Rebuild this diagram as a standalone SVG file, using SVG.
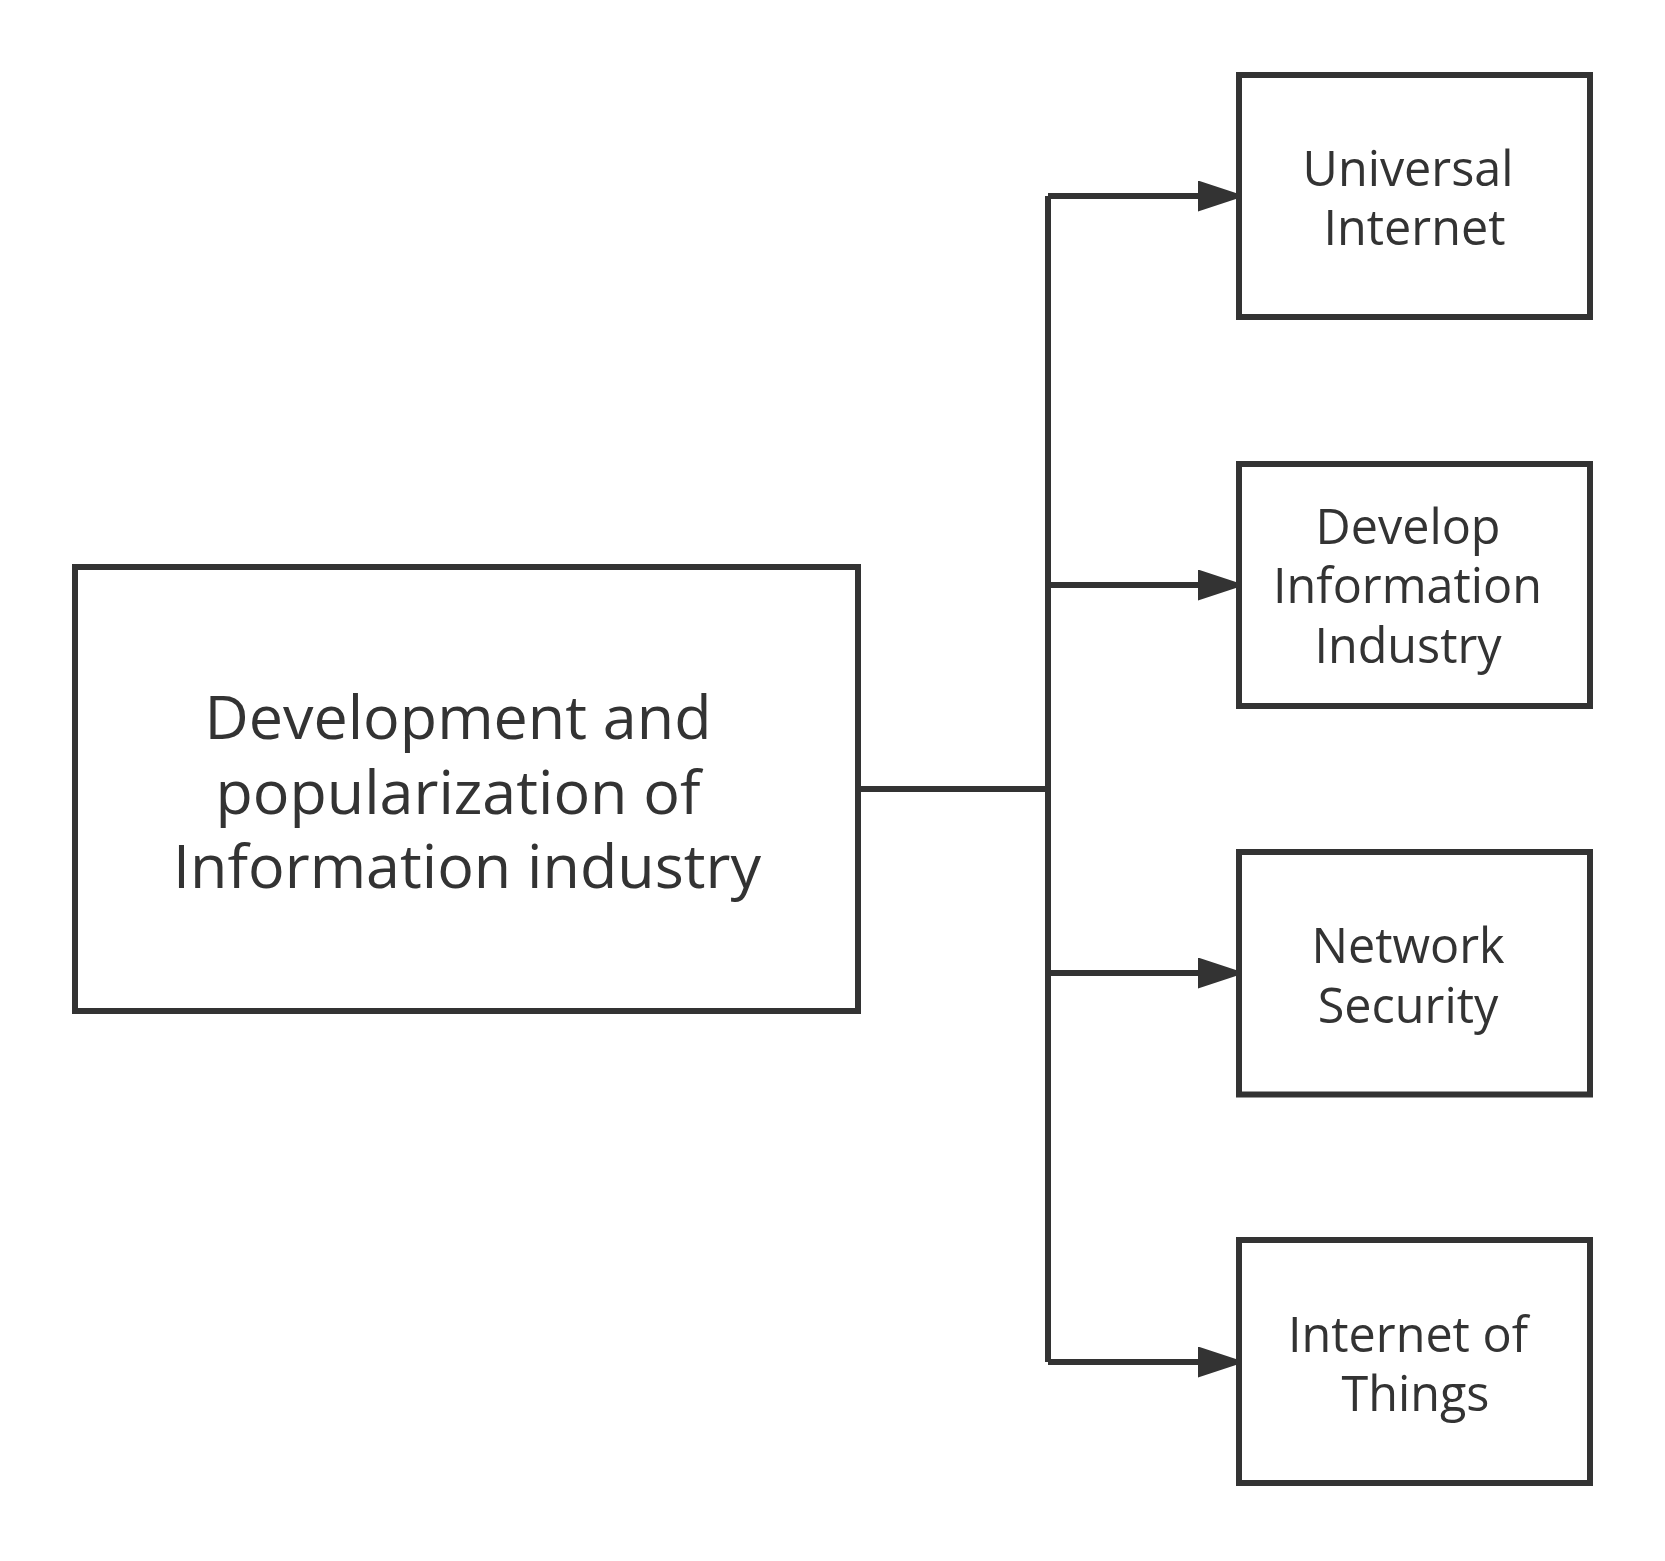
<svg xmlns="http://www.w3.org/2000/svg" width="1665" height="1561" viewBox="0 0 1665 1561">
<style>
.box{fill:#ffffff;stroke:#333333;stroke-width:6}
.edge{fill:none;stroke:#333333;stroke-width:6}
.t{font-family:"Open Sans","Noto Sans","Liberation Sans",sans-serif;fill:#333333;text-anchor:middle}
.s{font-size:48.5px}
.m{font-size:61px}
</style>
<defs>
<marker id="arrow" markerUnits="userSpaceOnUse" viewBox="0 0 47 31" markerWidth="47" markerHeight="31" refX="7" refY="15.5" orient="auto">
<path d="M0,0 L47,15.5 L0,31 Z" fill="#333333"/>
</marker>
</defs>
<rect width="1665" height="1561" fill="#ffffff"/>
<g id="connectors">
<path class="edge" d="M858,789 H1048"/>
<path class="edge" d="M1048,196 V1362"/>
<path class="edge" d="M1048,196 H1205" marker-end="url(#arrow)"/>
<path class="edge" d="M1048,585 H1205" marker-end="url(#arrow)"/>
<path class="edge" d="M1048,973 H1205" marker-end="url(#arrow)"/>
<path class="edge" d="M1048,1362 H1205" marker-end="url(#arrow)"/>
</g>
<g id="main">
<rect class="box" x="75" y="567" width="783" height="444"/>
<text class="t m"><tspan x="458" y="739">Development and</tspan><tspan x="458" y="813.5">popularization of</tspan><tspan x="467" y="888">Information industry</tspan></text>
</g>
<g id="universal-internet">
<rect class="box" x="1239" y="75" width="351" height="242"/>
<text class="t s"><tspan x="1408" y="185.5">Universal</tspan><tspan x="1414.5" y="245">Internet</tspan></text>
</g>
<g id="develop-information-industry">
<rect class="box" x="1239" y="464" width="351" height="242"/>
<text class="t s"><tspan x="1408" y="543.5">Develop</tspan><tspan x="1407.5" y="603">Information</tspan><tspan x="1408" y="662.5">Industry</tspan></text>
</g>
<g id="network-security">
<rect class="box" x="1239" y="852" width="351" height="242.5"/>
<text class="t s"><tspan x="1408" y="963">Network</tspan><tspan x="1408" y="1022.5">Security</tspan></text>
</g>
<g id="internet-of-things">
<rect class="box" x="1239" y="1240" width="351" height="243"/>
<text class="t s"><tspan x="1408" y="1352">Internet of</tspan><tspan x="1415.5" y="1411">Things</tspan></text>
</g>
</svg>
